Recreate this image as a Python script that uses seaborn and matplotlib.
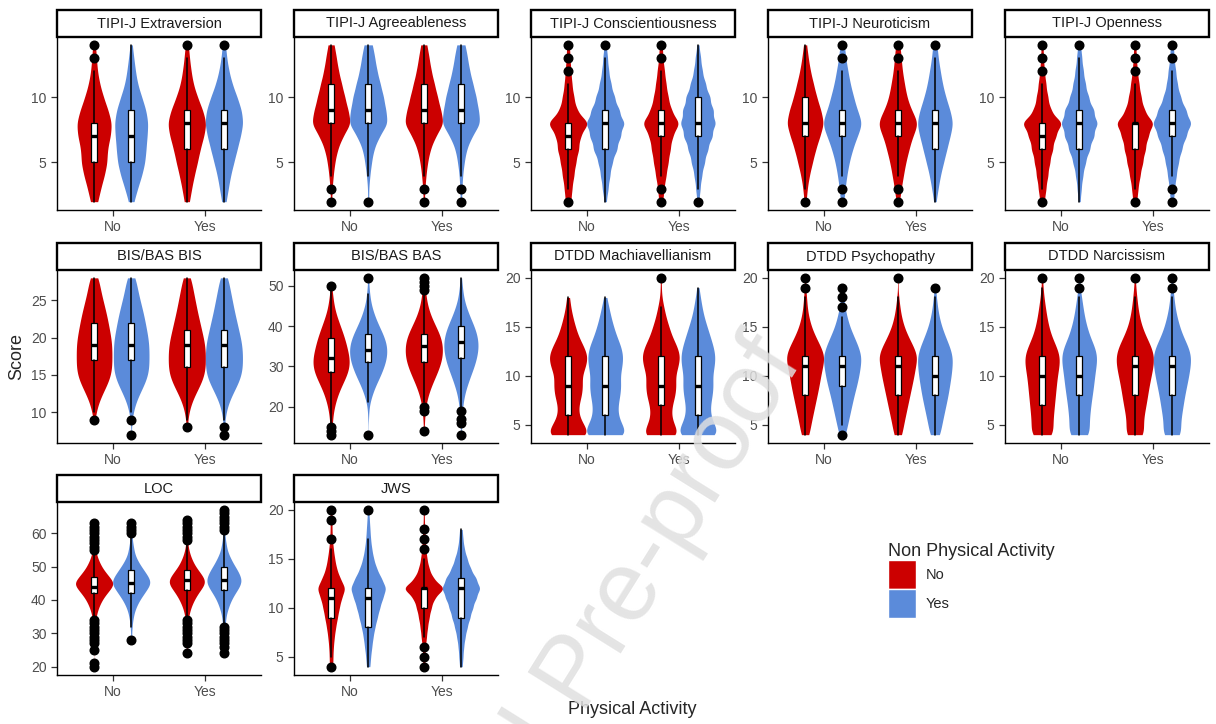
import numpy as np
import pandas as pd
import matplotlib.pyplot as plt
import seaborn as sns
from matplotlib.patches import Rectangle, Patch

# Violins of personality scores by physical activity (x) and non physical activity (hue)

sns.set_style("ticks")
plt.rcParams['font.family'] = ['Liberation Sans', 'DejaVu Sans']

red = "#CC0000"
blue = "#5B8BDA"
answers = ["No", "Yes"]
# group order inside every panel: (physical, non physical)
group_keys = [("No", "No"), ("No", "Yes"), ("Yes", "No"), ("Yes", "Yes")]

# score levels of each scale
tipi_levels = list(range(2, 15))
bis_levels = list(range(7, 29))
bas_levels = list(range(13, 53))
dtdd_levels = list(range(4, 21))
loc_levels = list(range(20, 68))
jws_levels = list(range(4, 21))

# how many answers sit on each score level, one list per group
extraversion_counts = [[8, 14, 22, 28, 28, 35, 38, 30, 20, 12, 7, 5, 3],
                       [5, 12, 20, 26, 28, 30, 32, 28, 20, 12, 8, 5, 2],
                       [5, 9, 14, 20, 25, 32, 37, 30, 20, 12, 8, 5, 3],
                       [4, 8, 12, 18, 24, 30, 35, 32, 24, 15, 9, 5, 3]]
agreeableness_counts = [[1, 2, 4, 7, 12, 22, 38, 32, 26, 20, 14, 10, 6],
                        [1, 1, 3, 6, 10, 20, 36, 32, 28, 22, 16, 12, 8],
                        [1, 2, 4, 7, 12, 22, 38, 32, 26, 20, 14, 10, 6],
                        [1, 2, 3, 6, 10, 20, 36, 32, 28, 22, 16, 12, 8]]
conscientiousness_counts = [[6, 8, 12, 16, 22, 25, 43, 18, 12, 8, 6, 4, 3],
                            [2, 5, 8, 12, 20, 26, 33, 24, 16, 10, 6, 4, 2],
                            [4, 6, 10, 14, 18, 22, 36, 20, 14, 10, 7, 4, 3],
                            [2, 4, 7, 12, 18, 26, 32, 28, 22, 14, 8, 5, 2]]
neuroticism_counts = [[2, 4, 8, 14, 20, 28, 36, 30, 22, 16, 10, 6, 3],
                      [3, 5, 8, 12, 18, 26, 36, 26, 20, 14, 10, 6, 4],
                      [3, 6, 10, 14, 20, 26, 38, 24, 16, 12, 8, 6, 4],
                      [2, 6, 10, 16, 22, 28, 34, 28, 20, 14, 10, 6, 4]]
openness_counts = [[5, 8, 12, 16, 22, 28, 42, 18, 12, 8, 5, 3, 2],
                   [2, 4, 7, 12, 20, 28, 35, 28, 18, 12, 8, 5, 3],
                   [4, 6, 10, 15, 20, 25, 36, 18, 12, 8, 5, 3, 2],
                   [3, 5, 8, 12, 18, 26, 36, 26, 16, 10, 7, 4, 3]]
bis_counts = [[0, 0, 2, 4, 8, 14, 22, 30, 36, 38, 38, 38, 38, 36, 33, 30, 27, 23, 19, 15, 12, 10],
              [1, 0, 2, 4, 8, 14, 22, 30, 36, 38, 38, 38, 38, 36, 33, 30, 27, 23, 19, 15, 12, 10],
              [0, 1, 2, 4, 8, 14, 22, 30, 36, 38, 38, 38, 37, 34, 30, 27, 23, 20, 17, 14, 11, 9],
              [1, 1, 2, 4, 8, 14, 22, 30, 36, 38, 38, 38, 37, 34, 30, 27, 23, 20, 17, 14, 11, 9]]
bas_counts = [[2, 2, 2, 3, 3, 4, 5, 7, 9, 11, 14, 17, 21, 25, 29, 33, 36, 38, 38, 38,
               36, 34, 32, 30, 28, 25, 22, 19, 16, 13, 10, 8, 6, 5, 4, 3, 2, 2, 0, 0],
              [1, 0, 0, 0, 1, 1, 1, 2, 3, 6, 8, 11, 14, 18, 22, 26, 29, 32, 35, 37,
               38, 38, 38, 36, 33, 30, 26, 22, 18, 15, 12, 9, 7, 5, 4, 3, 2, 2, 1, 1],
              [0, 1, 1, 1, 2, 2, 3, 4, 5, 7, 9, 12, 15, 18, 22, 26, 29, 32, 35, 37,
               38, 38, 38, 37, 35, 32, 28, 24, 20, 16, 13, 10, 8, 6, 5, 4, 3, 3, 2, 2],
              [1, 1, 1, 1, 2, 2, 3, 4, 5, 6, 8, 10, 13, 16, 19, 22, 26, 29, 32, 34,
               36, 38, 38, 38, 37, 35, 32, 29, 25, 21, 17, 14, 11, 8, 6, 5, 4, 3, 2, 2]]
mach_counts = [[44, 30, 20, 20, 26, 28, 26, 34, 38, 30, 20, 14, 9, 5, 3, 0, 0],
               [44, 32, 24, 24, 28, 30, 28, 32, 34, 30, 22, 16, 11, 7, 3, 0, 0],
               [38, 26, 20, 22, 28, 30, 28, 34, 38, 32, 22, 16, 10, 6, 2, 1, 1],
               [44, 32, 24, 24, 28, 30, 28, 32, 34, 30, 24, 18, 12, 8, 5, 2, 0]]
psycho_counts = [[8, 11, 15, 19, 23, 27, 30, 34, 38, 30, 20, 12, 7, 4, 3, 1, 1],
                 [6, 10, 14, 18, 22, 27, 31, 34, 36, 30, 22, 14, 9, 5, 3, 2, 0],
                 [8, 11, 15, 19, 23, 27, 31, 34, 38, 30, 20, 12, 7, 4, 2, 0, 1],
                 [10, 13, 17, 21, 25, 28, 31, 33, 34, 28, 20, 13, 8, 5, 3, 1, 0]]
narc_counts = [[26, 22, 24, 26, 28, 30, 32, 36, 38, 30, 20, 14, 10, 7, 4, 2, 1],
               [24, 20, 22, 24, 27, 30, 32, 35, 38, 32, 22, 16, 11, 8, 5, 2, 1],
               [20, 16, 18, 22, 25, 28, 32, 36, 38, 32, 22, 14, 9, 6, 4, 2, 1],
               [20, 16, 19, 22, 25, 29, 33, 36, 38, 32, 22, 15, 10, 6, 4, 2, 1]]
loc_counts = [[1, 1, 0, 0, 0, 1, 0, 1, 1, 1, 1, 1, 2, 2, 3, 4, 5, 7, 9, 12,
               15, 19, 24, 29, 34, 38, 33, 28, 23, 18, 14, 11, 8, 6, 4, 3, 2, 2, 1, 1,
               1, 1, 1, 1, 0, 0, 0, 0],
              [0, 0, 0, 0, 0, 0, 0, 0, 1, 1, 1, 1, 2, 2, 3, 4, 5, 7, 9, 12,
               15, 19, 23, 27, 31, 34, 33, 30, 26, 22, 18, 14, 11, 8, 6, 5, 4, 3, 2, 2,
               1, 1, 1, 1, 0, 0, 0, 0],
              [0, 0, 0, 0, 1, 1, 1, 1, 1, 1, 1, 2, 2, 2, 3, 4, 5, 7, 9, 12,
               15, 19, 23, 28, 33, 37, 37, 33, 28, 23, 18, 14, 11, 8, 6, 4, 3, 2, 2, 1,
               1, 1, 1, 1, 1, 0, 0, 0],
              [0, 0, 0, 0, 1, 0, 1, 1, 1, 1, 1, 2, 2, 3, 3, 4, 5, 7, 9, 11,
               14, 17, 21, 25, 29, 32, 33, 31, 28, 25, 21, 17, 14, 11, 8, 6, 5, 4, 3, 2,
               2, 1, 1, 1, 1, 1, 1, 1]]
jws_counts = [[4, 4, 5, 7, 10, 14, 18, 23, 32, 20, 12, 8, 5, 3, 2, 2, 2],
              [3, 4, 6, 8, 11, 15, 19, 24, 30, 22, 14, 9, 6, 4, 3, 2, 1],
              [2, 2, 3, 5, 7, 10, 14, 20, 40, 18, 10, 6, 4, 3, 2, 1, 1],
              [2, 3, 4, 6, 9, 13, 17, 22, 28, 22, 14, 9, 5, 3, 2, 0, 0]]

# box summaries: (lower whisker, q1, median, q3, upper whisker, outliers)
extraversion_boxes = [(2, 5, 7, 8, 12, [13, 14]), (2, 5, 7, 9, 14, []),
                      (2, 6, 8, 9, 13, [14]), (2, 6, 8, 9, 13, [14])]
agreeableness_boxes = [(4, 8, 9, 11, 14, [2, 3]), (4, 8, 9, 11, 14, [2]),
                       (4, 8, 9, 11, 14, [2, 3]), (4, 8, 9, 11, 14, [2, 3])]
conscientiousness_boxes = [(3, 6, 7, 8, 11, [12, 13, 14, 2]), (2, 6, 8, 9, 13, [14]),
                           (4, 7, 8, 9, 12, [13, 14, 3, 2]), (3, 7, 8, 10, 14, [2])]
neuroticism_boxes = [(3, 7, 8, 10, 14, [2]), (4, 7, 8, 9, 12, [13, 14, 3, 2]),
                     (4, 7, 8, 9, 12, [13, 14, 3, 2]), (2, 6, 8, 9, 13, [14])]
openness_boxes = [(3, 6, 7, 8, 11, [12, 13, 14, 2]), (2, 6, 8, 9, 13, [14]),
                  (3, 6, 8, 8, 11, [12, 13, 14, 2]), (4, 7, 8, 9, 12, [13, 14, 3, 2])]
bis_boxes = [(10, 17, 19, 22, 28, [9]), (10, 17, 19, 22, 28, [9, 7]),
             (9, 16, 19, 21, 28, [8]), (9, 16, 19, 21, 28, [8, 7])]
bas_boxes = [(16, 28.5, 32, 37, 49, [50, 15, 14, 13]), (21, 31, 34, 38, 48, [52, 13]),
             (21, 31, 35, 38, 48, [49, 50, 51, 52, 20, 19, 14]), (20, 32, 36, 40, 52, [19, 17, 16, 13])]
mach_boxes = [(4, 6, 9, 12, 18, []), (4, 6, 9, 12, 18, []),
              (4, 7, 9, 12, 17, [20]), (4, 6, 9, 12, 19, [])]
psycho_boxes = [(4, 8, 11, 12, 18, [19, 20]), (5, 9, 11, 12, 16, [17, 18, 19, 4]),
                (4, 8, 11, 12, 18, [20]), (4, 8, 10, 12, 18, [19])]
narc_boxes = [(4, 7, 10, 12, 19, [20]), (4, 8, 10, 12, 18, [19, 20]),
              (4, 8, 11, 12, 18, [20]), (4, 8, 11, 12, 18, [19, 20])]
loc_boxes = [(35, 42, 44, 47, 54, [55, 56, 57, 58, 59, 60, 61, 62, 63, 34, 33, 32, 31, 30, 29, 28, 27, 25, 21, 20]),
             (32, 42, 45, 49, 59, [60, 61, 62, 63, 28]),
             (35, 43, 46, 49, 57, [58, 59, 60, 61, 62, 63, 64, 34, 33, 32, 31, 30, 29, 28, 27, 24]),
             (33, 43, 46, 50, 60, [61, 62, 63, 64, 65, 66, 67, 32, 31, 30, 29, 28, 27, 26, 24])]
jws_boxes = [(5, 9, 11, 12, 16, [17, 19, 20, 4]), (4, 8, 11, 12, 17, [20]),
             (7, 10, 12, 12, 15, [16, 17, 18, 20, 6, 5, 4]), (4, 9, 12, 13, 18, [])]

tipi_ticks = [5, 10]
bis_ticks = [10, 15, 20, 25]
bas_ticks = [20, 30, 40, 50]
dtdd_ticks = [5, 10, 15, 20]
loc_ticks = [20, 30, 40, 50, 60]
jws_ticks = [5, 10, 15, 20]

# title, levels, counts, boxes, y ticks, kde bandwidth adjust
panels = [
    ("TIPI-J Extraversion", tipi_levels, extraversion_counts, extraversion_boxes, tipi_ticks, 0.7),
    ("TIPI-J Agreeableness", tipi_levels, agreeableness_counts, agreeableness_boxes, tipi_ticks, 0.7),
    ("TIPI-J Conscientiousness", tipi_levels, conscientiousness_counts, conscientiousness_boxes, tipi_ticks, 0.55),
    ("TIPI-J Neuroticism", tipi_levels, neuroticism_counts, neuroticism_boxes, tipi_ticks, 0.7),
    ("TIPI-J Openness", tipi_levels, openness_counts, openness_boxes, tipi_ticks, 0.55),
    ("BIS/BAS BIS", bis_levels, bis_counts, bis_boxes, bis_ticks, 0.8),
    ("BIS/BAS BAS", bas_levels, bas_counts, bas_boxes, bas_ticks, 0.9),
    ("DTDD Machiavellianism", dtdd_levels, mach_counts, mach_boxes, dtdd_ticks, 0.6),
    ("DTDD Psychopathy", dtdd_levels, psycho_counts, psycho_boxes, dtdd_ticks, 0.7),
    ("DTDD Narcissism", dtdd_levels, narc_counts, narc_boxes, dtdd_ticks, 0.7),
    ("LOC", loc_levels, loc_counts, loc_boxes, loc_ticks, 0.6),
    ("JWS", jws_levels, jws_counts, jws_boxes, jws_ticks, 0.5),
]


def draw_panel(ax, title, levels, counts, boxes, ticks, bw):
    frames = []
    for (pa, npa), cnt in zip(group_keys, counts):
        assert len(cnt) == len(levels), title
        frames.append(pd.DataFrame({"pa": pa, "npa": npa,
                                    "score": np.repeat(levels, cnt)}))
    df = pd.concat(frames, ignore_index=True)

    sns.violinplot(data=df, x="pa", y="score", hue="npa", order=answers, hue_order=answers,
                   palette={"No": red, "Yes": blue}, inner=None, cut=0, density_norm="area",
                   bw_adjust=bw, linewidth=0, saturation=1, width=0.8, legend=False, ax=ax)

    stats, pos = [], []
    for (pa, npa), (lo, q1, med, q3, hi, fl) in zip(group_keys, boxes):
        stats.append(dict(whislo=lo, q1=q1, med=med, q3=q3, whishi=hi, fliers=fl))
        pos.append(answers.index(pa) + (-0.2 if npa == "No" else 0.2))
    ax.bxp(stats, positions=pos, widths=0.07, patch_artist=True, showcaps=False,
           manage_ticks=False,
           boxprops=dict(facecolor="white", edgecolor="black", linewidth=0.9),
           whiskerprops=dict(color="black", linewidth=1.1),
           medianprops=dict(color="black", linewidth=2.4),
           flierprops=dict(marker="o", markerfacecolor="black", markeredgecolor="black",
                           markersize=6.2))

    # y range from the data, 5% padding like ggplot
    all_vals = [lv for cnt in counts for lv, c in zip(levels, cnt) if c > 0]
    all_vals += [v for b in boxes for v in b[5]]
    lo, hi = min(all_vals), max(all_vals)
    pad = 0.05 * (hi - lo)
    ax.set_ylim(lo - pad, hi + pad)
    ax.set_xlim(-0.6, 1.6)
    ax.set_yticks(ticks)
    ax.set_xlabel("")
    ax.set_ylabel("")
    sns.despine(ax=ax)
    for s in ["left", "bottom"]:
        ax.spines[s].set_color("black")
        ax.spines[s].set_linewidth(1.0)
    ax.tick_params(labelsize=10, labelcolor="#4D4D4D", color="#333333", length=4, width=0.9)

    # facet strip
    strip_h = 27 / 172.5
    ax.add_patch(Rectangle((0, 1), 1, strip_h, transform=ax.transAxes, clip_on=False,
                           facecolor="white", edgecolor="black", linewidth=1.7))
    ax.text(0.5, 1 + strip_h / 2, title, transform=ax.transAxes, ha="center", va="center",
            fontsize=10.5, color="#1A1A1A")


W, H = 1216, 724
fig = plt.figure(figsize=(W / 100, H / 100), dpi=100)
col_left = [57, 294, 531, 768, 1005]
row_top = [37, 270, 502]
pw, ph = 204, 172.5

for i, (title, levels, counts, boxes, ticks, bw) in enumerate(panels):
    r, c = divmod(i, 5)
    ax = fig.add_axes([col_left[c] / W, 1 - (row_top[r] + ph) / H, pw / W, ph / H])
    draw_panel(ax, title, levels, counts, boxes, ticks, bw)

fig.text(17 / W, 1 - 356 / H, "Score", rotation=90, ha="center", va="center", fontsize=13)
fig.text(632 / W, 1 - 710 / H, "Physical Activity", ha="center", va="center", fontsize=13)

handles = [Patch(facecolor=red, label="No"), Patch(facecolor=blue, label="Yes")]
fig.legend(handles=handles, title="Non Physical Activity", loc="upper left",
           bbox_to_anchor=(888 / W, 1 - 543 / H), frameon=False, fontsize=10.5,
           title_fontsize=13, handlelength=1.9, handleheight=2.68, labelspacing=0.0,
           handletextpad=0.7, borderpad=0, borderaxespad=0, alignment="left")

# "Journal Pre-proof" watermark of the source page
fig.text(577 / W, 1 - 676 / H, "Journal Pre-proof", rotation=58, rotation_mode="anchor",
         ha="center", va="center", fontsize=72, color="#E0E0E0", alpha=0.85, zorder=10)

fig.savefig("out.png", dpi=100)
